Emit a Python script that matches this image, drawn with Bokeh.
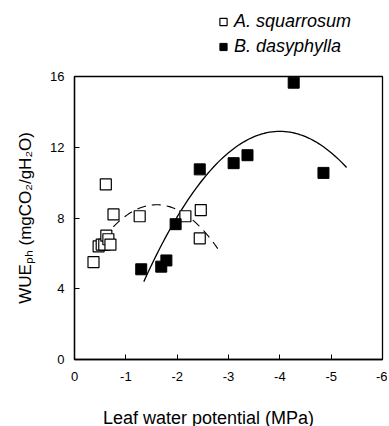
import numpy as np
from bokeh.plotting import figure
from bokeh.layouts import column
from bokeh.models import Range1d, Legend, LegendItem, FixedTicker
from bokeh.embed import file_html
from bokeh.resources import INLINE

# A. squarrosum (open squares)
sq_x = [-0.37, -0.47, -0.53, -0.58, -0.62, -0.66, -0.70, -0.61, -0.76, -1.27, -2.16, -2.46, -2.44]
sq_y = [5.5, 6.4, 6.5, 6.5, 7.0, 6.8, 6.5, 9.9, 8.2, 8.1, 8.1, 8.45, 6.85]
# B. dasyphylla (filled squares)
bd_x = [-1.30, -1.69, -1.79, -1.97, -2.44, -3.10, -3.37, -4.85, -4.27]
bd_y = [5.1, 5.25, 5.6, 7.65, 10.75, 11.1, 11.55, 10.55, 15.65]
series_names = ["A. squarrosum", "B. dasyphylla"]

# quadratic fits: y = peak - k*(x - x_peak)^2 over [x_from, x_to]
fit_bd = dict(peak=12.9, x_peak=-4.0, k=1.21, x_from=-1.35, x_to=-5.3)
fit_sq = dict(peak=8.75, x_peak=-1.6, k=1.75, x_from=-0.39, x_to=-2.79)

x_ticks = [0, -1, -2, -3, -4, -5, -6]
x_tick_labels = ["0", "-1", "-2", "-3", "-4", "-5", "-6"]
y_ticks = [0, 4, 8, 12, 16]

FONT = "Liberation Sans"
W = 387

sq_style = dict(marker="square", fill_color="white", line_color="black", line_width=1.2)
bd_style = dict(marker="square", fill_color="black", line_color="black")

# ---- legend strip (above the chart); its own range hides the proxy points ----
lg = figure(width=W, height=70, output_backend="svg", toolbar_location=None,
            x_range=Range1d(0, 1), y_range=Range1d(0, 1),
            x_axis_location=None, y_axis_location=None,
            min_border_left=74, min_border_right=5,
            min_border_top=0, min_border_bottom=0)
lg.outline_line_color = None
lg.grid.visible = False
lg.background_fill_color = "white"
lg.border_fill_color = "white"
lr_sq = lg.scatter(sq_x, sq_y, size=9, **sq_style)
lr_bd = lg.scatter(bd_x, bd_y, size=9, **bd_style)
legend = Legend(items=[LegendItem(label=series_names[0], renderers=[lr_sq]),
                       LegendItem(label=series_names[1], renderers=[lr_bd])],
                location=(140, 11), padding=0, margin=0, spacing=0,
                glyph_width=18, glyph_height=25, label_height=25, label_standoff=2,
                label_text_font=FONT, label_text_font_size="18px",
                label_text_font_style="italic", label_text_color="black",
                border_line_color=None, background_fill_alpha=0)
lg.add_layout(legend, "center")

# ---- main chart ----
p = figure(width=W, height=354, output_backend="svg", toolbar_location=None,
           x_range=Range1d(0, -6), y_range=Range1d(0, 16),
           frame_width=308, frame_height=283,
           min_border_left=74, min_border_right=5, min_border_top=6, min_border_bottom=65)
p.background_fill_color = "white"
p.border_fill_color = "white"
p.grid.visible = False
p.outline_line_color = "black"
p.outline_line_width = 1.3

def curve(f):
    xs = np.linspace(f["x_from"], f["x_to"], 80)
    ys = f["peak"] - f["k"] * (xs - f["x_peak"]) ** 2
    return xs, ys

xs, ys = curve(fit_bd)
p.line(xs, ys, line_color="black", line_width=1.3)
xs, ys = curve(fit_sq)
p.line(xs, ys, line_color="black", line_width=1.1, line_dash="9 6")

p.scatter(sq_x, sq_y, size=11, **sq_style)
p.scatter(bd_x, bd_y, size=11, **bd_style)

for ax in (p.xaxis, p.yaxis):
    ax.axis_line_color = "black"
    ax.axis_line_width = 1.3
    ax.major_tick_in = 5
    ax.major_tick_out = 0
    ax.minor_tick_line_color = None
    ax.major_label_text_font = FONT
    ax.major_label_text_font_size = "13px"
    ax.major_label_text_color = "black"
    ax.axis_label_text_font = FONT
    ax.axis_label_text_font_style = "normal"
    ax.axis_label_text_color = "black"

p.xaxis.ticker = FixedTicker(ticks=x_ticks)
p.xaxis.major_label_overrides = {t: l for t, l in zip(x_ticks, x_tick_labels)}
p.xaxis.major_label_standoff = 12
# trailing no-break spaces shift the centred title left, as in the reference
p.xaxis.axis_label = "Leaf water potential (MPa)" + "\u00a0" * 8
p.xaxis.axis_label_text_font_size = "18px"
p.xaxis.axis_label_standoff = 24

p.yaxis.ticker = FixedTicker(ticks=y_ticks)
p.yaxis.major_label_standoff = 10
p.yaxis.axis_label = "WUEₚₕ (mgCO₂/gH₂O)"
p.yaxis.axis_label_text_font_size = "17px"
p.yaxis.axis_label_standoff = 12

layout = column(lg, p, spacing=0)
open("out.html", "w").write(file_html(layout, INLINE))
